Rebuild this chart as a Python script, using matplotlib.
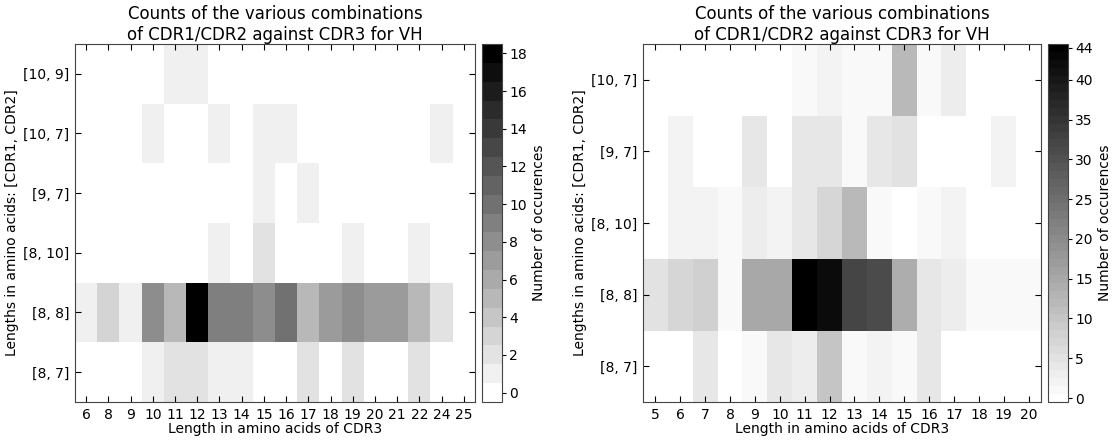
import numpy as np
import matplotlib
matplotlib.use("Agg")
import matplotlib.pyplot as plt

# CDR3 lengths (columns) and [CDR1, CDR2] combos (rows, bottom to top)
left_cdr3 = [6, 8, 9, 10, 11, 12, 13, 14, 15, 16, 17, 18, 19, 20, 21, 22, 24, 25]
left_rows = ["[8, 7]", "[8, 8]", "[8, 10]", "[9, 7]", "[10, 7]", "[10, 9]"]
left_87 = [0, 0, 0, 1, 2, 2, 1, 1, 0, 0, 2, 0, 2, 0, 0, 2, 0, 0]
left_88 = [1, 3, 1, 8, 5, 18, 9, 9, 8, 10, 5, 7, 8, 7, 7, 5, 2, 0]
left_810 = [0, 0, 0, 0, 0, 0, 1, 0, 2, 0, 0, 0, 1, 0, 0, 1, 0, 0]
left_97 = [0, 0, 0, 0, 0, 0, 0, 0, 1, 0, 1, 0, 0, 0, 0, 0, 0, 0]
left_107 = [0, 0, 0, 1, 0, 0, 1, 0, 1, 1, 0, 0, 0, 0, 0, 0, 1, 0]
left_109 = [0, 0, 0, 0, 1, 1, 0, 0, 0, 0, 0, 0, 0, 0, 0, 0, 0, 0]

right_cdr3 = [5, 6, 7, 8, 9, 10, 11, 12, 13, 14, 15, 16, 17, 18, 19, 20]
right_rows = ["[8, 7]", "[8, 8]", "[8, 10]", "[9, 7]", "[10, 7]"]
right_87 = [0, 0, 4, 0, 1, 4, 3, 10, 1, 2, 1, 4, 0, 0, 0, 0]
right_88 = [5, 7, 8, 1, 15, 15, 44, 42, 32, 31, 14, 4, 3, 1, 1, 1]
right_810 = [0, 2, 2, 1, 3, 2, 4, 7, 12, 1, 0, 1, 2, 0, 0, 0]
right_97 = [0, 2, 0, 0, 4, 0, 4, 4, 1, 4, 5, 0, 0, 0, 2, 0]
right_107 = [0, 0, 0, 0, 0, 0, 1, 2, 1, 1, 12, 1, 3, 0, 0, 0]

left_mat = np.array([left_87, left_88, left_810, left_97, left_107, left_109])
right_mat = np.array([right_87, right_88, right_810, right_97, right_107])

title = "Counts of the various combinations\nof CDR1/CDR2 against CDR3 for VH"

W, H = 1112, 440
fig = plt.figure(figsize=(W / 100, H / 100), dpi=100)


def box(x0, y0, w, h):
    # pixel box (top-left origin) -> figure fraction
    return [x0 / W, (H - y0 - h) / H, w / W, h / H]


def heat(ax, cax, mat, cols, rows, tick_step):
    vmax = int(mat.max())
    cmap = plt.get_cmap("gray_r", vmax + 1)
    im = ax.imshow(mat, cmap=cmap, vmin=-0.5, vmax=vmax + 0.5, aspect="auto",
                   interpolation="nearest", origin="lower")
    ax.set_xticks(np.arange(len(cols)))
    ax.set_xticklabels([str(c) for c in cols])
    ax.set_yticks(np.arange(len(rows)))
    ax.set_yticklabels(rows)
    ax.tick_params(direction="in", top=True, right=True, length=4, labelsize=10, pad=4)
    ax.set_xlabel("Length in amino acids of CDR3", fontsize=10, labelpad=0)
    ax.set_ylabel("Lengths in amino acids: [CDR1, CDR2]", fontsize=10, labelpad=3)
    ax.set_title(title, fontsize=12, pad=3)
    for s in ax.spines.values():
        s.set_color("#444444")
    ticks = list(range(0, vmax, tick_step)) + [vmax]
    cb = fig.colorbar(im, cax=cax, ticks=ticks)
    cb.set_label("Number of occurences", fontsize=10)
    cb.ax.tick_params(labelsize=10, length=3, pad=2)
    cb.outline.set_edgecolor("#444444")


ax1 = fig.add_axes(box(75, 44, 400, 358))
cax1 = fig.add_axes(box(482, 44, 20, 358))
heat(ax1, cax1, left_mat, left_cdr3, left_rows, 2)

ax2 = fig.add_axes(box(643, 44, 398, 358))
cax2 = fig.add_axes(box(1048, 44, 20, 358))
heat(ax2, cax2, right_mat, right_cdr3, right_rows, 5)

fig.savefig("out.png", dpi=100)
